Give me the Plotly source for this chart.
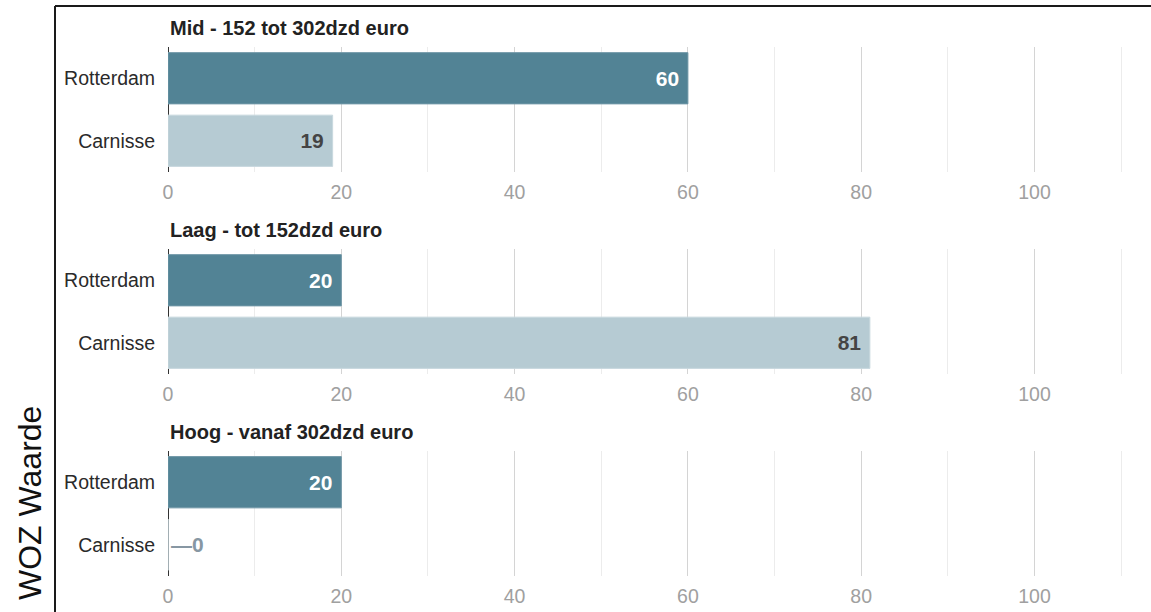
import plotly.graph_objects as go

W, H = 1151, 612

panel_titles = ["Mid - 152 tot 302dzd euro", "Laag - tot 152dzd euro", "Hoog - vanaf 302dzd euro"]
areas = ["Rotterdam", "Carnisse"]
rotterdam_vals = [60, 20, 20]
carnisse_vals = [19, 81, 0]
x_ticks = [0, 20, 40, 60, 80, 100]
axis_title = "WOZ Waarde"

dark = "#528395"
light = "#B6CBD3"
font_fam = "Liberation Sans, Arial, sans-serif"

x0_px, x1_px = 168, 1151
panel_tops = [47, 249, 451]
panel_h = 125
title_y = [28, 230, 432]

def py(p):
    return 1 - p / H

fig = go.Figure()
for i in range(3):
    vals = [rotterdam_vals[i], carnisse_vals[i]]
    texts = [str(v) + "\u00a0" if v > 0 else "\u2014" + str(v) for v in vals]
    pos = ["inside" if v > 0 else "outside" for v in vals]
    tcolors = ["white", "#444444"]
    tcolors = [c if v > 0 else "#8797a3" for c, v in zip(tcolors, vals)]
    sfx = "" if i == 0 else str(i + 1)
    fig.add_trace(go.Bar(
        x=vals, y=areas, orientation="h",
        marker=dict(color=[dark, light], line=dict(color=["#6f97a7", "#c8d8de"], width=1)),
        text=texts, textposition=pos, insidetextanchor="end",
        textfont=dict(color=tcolors, size=21, family=font_fam, weight="bold"),
        cliponaxis=False,
        xaxis="x" + sfx, yaxis="y" + sfx, showlegend=False, hoverinfo="skip",
    ))
    top = panel_tops[i]
    xa = dict(
        domain=[x0_px / W, 1.0], range=[0, (x1_px - x0_px) / 8.665],
        tickvals=x_ticks, showgrid=True, gridcolor="#d4d4d4", gridwidth=1,
        minor=dict(dtick=10, tick0=0, showgrid=True, gridcolor="#ececec", gridwidth=1),
        zeroline=True, zerolinecolor="#333333", zerolinewidth=1,
        ticks="outside", ticklen=3, tickcolor="rgba(0,0,0,0)",
        tickfont=dict(size=19.5, color="#a0a0a0", family=font_fam),
        anchor="y" + sfx, showline=False, fixedrange=True, automargin=False,
    )
    ya = dict(
        domain=[py(top + panel_h), py(top)], autorange="reversed",
        tickfont=dict(size=19.5, color="#2a2a2a", family=font_fam),
        ticks="outside", ticklen=8, tickcolor="rgba(0,0,0,0)",
        anchor="x" + sfx, showgrid=False, fixedrange=True, automargin=False,
    )
    fig.update_layout(**{"xaxis" + sfx: xa, "yaxis" + sfx: ya})
    fig.add_annotation(
        text=panel_titles[i], xref="paper", yref="paper",
        x=x0_px / W, y=py(title_y[i]), xanchor="left", yanchor="middle",
        showarrow=False, font=dict(size=20, color="#222222", family=font_fam, weight="bold"),
    )

fig.add_annotation(
    text=axis_title, xref="paper", yref="paper", x=30 / W, y=py(503),
    textangle=-90, showarrow=False, xanchor="center", yanchor="middle",
    font=dict(size=32, color="#111111", family=font_fam),
)
fig.add_shape(type="line", xref="paper", yref="paper", x0=55 / W, x1=55 / W, y0=0, y1=py(6),
              line=dict(color="#1a1a1a", width=2))
fig.add_shape(type="line", xref="paper", yref="paper", x0=55 / W, x1=1, y0=py(6), y1=py(6),
              line=dict(color="#1a1a1a", width=2))

fig.update_layout(
    width=W, height=H, margin=dict(l=0, r=0, t=0, b=0, autoexpand=False),
    paper_bgcolor="white", plot_bgcolor="white", bargap=0.18,
    font=dict(family=font_fam),
)
fig.write_html("out.html", config={"displayModeBar": False},
               post_script="document.body.style.margin='0px';")
